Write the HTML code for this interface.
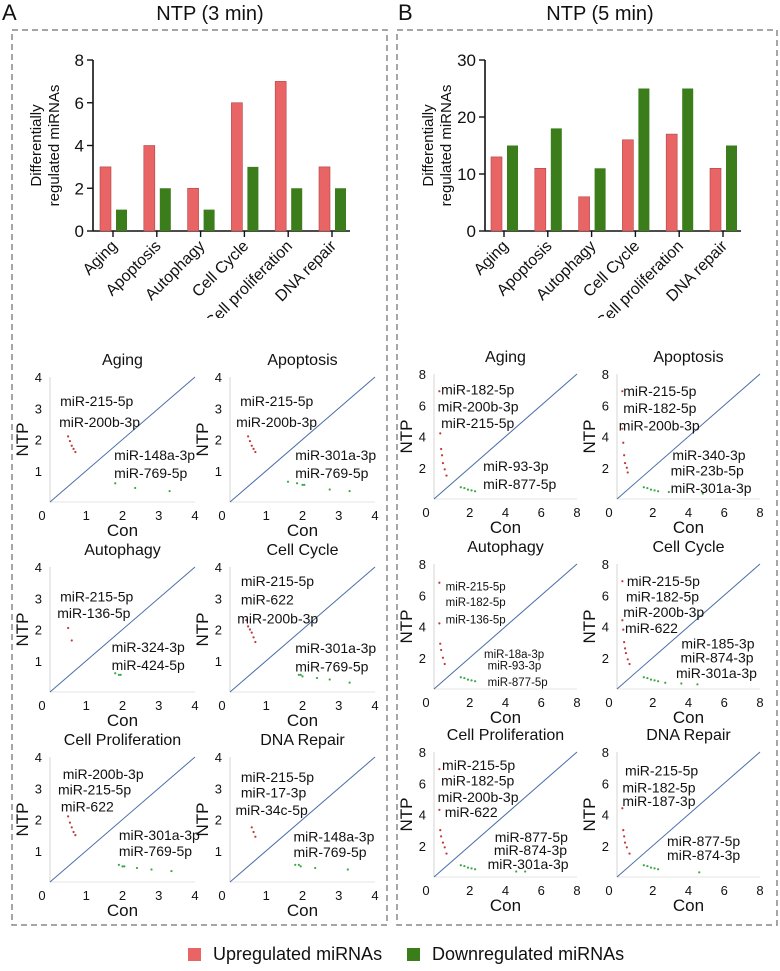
<!DOCTYPE html>
<html><head><meta charset="utf-8"><style>
html,body{margin:0;padding:0;background:#fff}
svg text{font-family:"Liberation Sans",Arial,sans-serif;fill:#111}
</style></head><body>
<svg id="fig" width="780" height="966" viewBox="0 0 780 966" xmlns="http://www.w3.org/2000/svg">
<defs><clipPath id="topclip"><rect x="0" y="0" width="780" height="318"/></clipPath></defs>
<text x="2" y="20" font-size="22">A</text>
<text x="210" y="20" font-size="20" text-anchor="middle">NTP (3 min)</text>
<text x="398" y="20" font-size="22">B</text>
<text x="600" y="20" font-size="20" text-anchor="middle">NTP (5 min)</text>
<rect x="12" y="30" width="375" height="895" fill="none" stroke="#888" stroke-width="1.5" stroke-dasharray="6,4"/>
<rect x="397" y="30" width="380" height="895" fill="none" stroke="#888" stroke-width="1.5" stroke-dasharray="6,4"/>
<g clip-path="url(#topclip)" id="bars"></g>
<g id="scat"></g>
<rect x="188" y="948" width="13" height="13" fill="#e96464"/>
<text x="213" y="960" font-size="18">Upregulated miRNAs</text>
<rect x="407" y="948" width="13" height="13" fill="#3a7d1a"/>
<text x="432" y="960" font-size="18">Downregulated miRNAs</text>
</svg>
<script>
const NS="http://www.w3.org/2000/svg";
const categories=["Aging","Apoptosis","Autophagy","Cell Cycle","Cell proliferation","DNA repair"];
const upA=[3,4,2,6,7,3];
const downA=[1,2,1,3,2,2];
const ticksA=[0,2,4,6,8];
const upB=[13,11,6,16,17,11];
const downB=[15,18,11,25,25,15];
const ticksB=[0,10,20,30];

// scatter data: [panelKey] up/down x & y values
const titlesA=["Aging","Apoptosis","Autophagy","Cell Cycle","Cell Proliferation","DNA Repair"];
const upXA=[[0.5,0.55,0.6,0.65,0.7],[0.5,0.55,0.6,0.65,0.7],[0.5,0.6],[0.45,0.5,0.55,0.6,0.65,0.7],[0.5,0.55,0.6,0.65,0.7],[0.6,0.65,0.7]];
const upYA=[[2.1,1.95,1.8,1.7,1.6],[2.1,1.95,1.8,1.7,1.6],[2.05,1.65],[2.3,2.1,2.0,1.9,1.75,1.6],[2.1,1.9,1.75,1.6,1.5],[1.75,1.6,1.45]];
const downXA=[[1.8,2.35,3.3],[1.6,1.85,2.0,2.05,2.75,3.3],[1.8,1.9,1.95],[1.9,1.95,2.0,2.4,2.75,3.3],[1.9,2.0,2.05,2.4,2.8,3.35],[1.8,1.9,1.95,2.35,3.25]];
const downYA=[[0.6,0.45,0.35],[0.65,0.6,0.55,0.55,0.4,0.35],[0.6,0.55,0.55],[0.55,0.55,0.5,0.45,0.4,0.3],[0.55,0.5,0.5,0.45,0.4,0.35],[0.55,0.55,0.5,0.45,0.4]];
const upXB=[[0.3,0.35,0.4,0.45,0.5,0.6,0.7],[0.3,0.3,0.35,0.4,0.45,0.55,0.6],[0.3,0.3,0.35,0.4,0.5,0.6],[0.3,0.3,0.35,0.4,0.45,0.5,0.6,0.7],[0.3,0.3,0.35,0.4,0.5,0.6,0.7],[0.3,0.35,0.4,0.45,0.55,0.7]];
const upYB=[[6.9,4.2,3.2,2.8,2.3,1.9,1.5],[6.9,4.5,3.6,2.8,2.3,2.0,1.7],[6.8,4.2,2.9,2.5,2.0,1.6],[6.9,4.4,3.8,3.0,2.6,2.3,1.9,1.6],[6.9,4.3,3.0,2.6,2.2,1.9,1.5],[4.4,3.0,2.6,2.2,1.9,1.5]];
const downXB=[[1.5,1.7,1.9,2.1,2.3],[1.5,1.7,1.9,2.1,2.3,2.9,4.8],[1.5,1.7,1.9,2.1,2.3],[1.5,1.7,1.9,2.1,2.3,2.7,3.6,4.5],[1.5,1.7,1.9,2.1,2.3,4.6,5.1],[1.5,1.7,1.9,2.1,2.3,4.6]];
const downYB=[[0.75,0.7,0.6,0.55,0.5],[0.75,0.7,0.6,0.55,0.5,0.45,0.35],[0.75,0.7,0.6,0.55,0.5],[0.75,0.7,0.6,0.55,0.5,0.4,0.35,0.3],[0.75,0.7,0.6,0.55,0.5,0.35,0.35],[0.75,0.7,0.6,0.55,0.5,0.3]];
// annotation labels per panel: text, x, y (data coords)
const labelsA=[
 [["miR-215-5p",0.28,3.07],["miR-200b-3p",0.25,2.4],["miR-148a-3p",1.77,1.34],["miR-769-5p",1.77,0.77]],
 [["miR-215-5p",0.28,3.07],["miR-200b-3p",0.17,2.4],["miR-301a-3p",1.8,1.34],["miR-769-5p",1.8,0.77]],
 [["miR-215-5p",0.28,2.9],["miR-136-5p",0.2,2.37],["miR-324-3p",1.7,1.28],["miR-424-5p",1.7,0.7]],
 [["miR-215-5p",0.3,3.4],["miR-622",0.3,2.8],["miR-200b-3p",0.2,2.2],["miR-301a-3p",1.8,1.25],["miR-769-5p",1.8,0.65]],
 [["miR-200b-3p",0.35,3.3],["miR-215-5p",0.22,2.8],["miR-622",0.3,2.25],["miR-301a-3p",1.9,1.35],["miR-769-5p",1.9,0.83]],
 [["miR-215-5p",0.3,3.2],["miR-17-3p",0.3,2.7],["miR-34c-5p",0.15,2.15],["miR-148a-3p",1.75,1.3],["miR-769-5p",1.75,0.8]]];
const labelsB=[
 [["miR-182-5p",0.4,6.7],["miR-200b-3p",0.2,5.6],["miR-215-5p",0.4,4.55],["miR-93-3p",2.75,1.8],["miR-877-5p",2.75,0.65]],
 [["miR-215-5p",0.35,6.6],["miR-182-5p",0.35,5.5],["miR-200b-3p",0.1,4.4],["miR-340-3p",3.1,2.5],["miR-23b-5p",3.0,1.5],["miR-301a-3p",3.0,0.4]],
 [["miR-215-5p",0.65,6.3],["miR-182-5p",0.65,5.3],["miR-136-5p",0.65,4.2],["miR-18a-3p",2.8,2.0],["miR-93-3p",3.0,1.25],["miR-877-5p",3.0,0.2]],
 [["miR-215-5p",0.55,6.6],["miR-182-5p",0.5,5.6],["miR-200b-3p",0.35,4.6],["miR-622",0.45,3.6],["miR-185-3p",3.6,2.6],["miR-874-3p",3.55,1.7],["miR-301a-3p",3.3,0.7]],
 [["miR-215-5p",0.45,6.85],["miR-182-5p",0.4,5.85],["miR-200b-3p",0.2,4.8],["miR-622",0.6,3.85],["miR-877-5p",3.4,2.25],["miR-874-3p",3.35,1.4],["miR-301a-3p",3.0,0.5]],
 [["miR-215-5p",0.45,6.5],["miR-182-5p",0.3,5.4],["miR-187-3p",0.3,4.55],["miR-877-5p",2.8,2.0],["miR-874-3p",2.8,1.1]]];
const ticksSA=[0,1,2,3,4];
const ticksSB=[0,2,4,6,8];

function el(tag,attrs,parent,txt){const e=document.createElementNS(NS,tag);for(const k in attrs)e.setAttribute(k,attrs[k]);if(txt!==undefined)e.textContent=txt;parent.appendChild(e);return e;}

function barChart(ax,x0,x1,y0,y1,ymax,ticks,up,down,tickX0,pre){
  const g=document.getElementById('bars');
  const ys=v=>y0-(v/ymax)*(y0-y1);
  const step=43.8;
  const xs=i=>tickX0+i*step;
  let a=el('line',{x1:ax,y1:y1,x2:ax,y2:y0,stroke:'#111','stroke-width':1.6},g);
  
  a=el('line',{x1:ax,y1:y0,x2:x1,y2:y0,stroke:'#111','stroke-width':1.6},g);
  
  ticks.forEach(t=>{
    el('line',{x1:ax-6,y1:ys(t),x2:ax,y2:ys(t),stroke:'#111','stroke-width':1.4},g);
    const tl=el('text',{x:ax-9,y:ys(t)+6,'font-size':17,'text-anchor':'end'},g,String(t));
    
    
  });
  const yt=el('text',{transform:`translate(${ax-50},${(y0+y1)/2}) rotate(-90)`,'font-size':15,'text-anchor':'middle'},g);
  
  
  el('tspan',{x:0,dy:-2},yt,'Differentially');el('tspan',{x:0,dy:18},yt,'regulated miRNAs');
  categories.forEach((c,i)=>{
    const cx=xs(i);
    el('line',{x1:cx,y1:y0,x2:cx,y2:y0+6,stroke:'#111','stroke-width':1.4},g);
    const r=el('rect',{x:cx-13,y:ys(up[i]),width:11,height:y0-ys(up[i]),fill:'#e96464',stroke:'#b04545','stroke-width':0.6},g);
    
    
    const d=el('rect',{x:cx+3,y:ys(down[i]),width:11,height:y0-ys(down[i]),fill:'#3a7d1a'},g);
    
    
    const t=el('text',{transform:`translate(${cx+5},${y0+16}) rotate(-45)`,'font-size':16,'text-anchor':'end'},g,c);
    
    
  });
}
barChart(93,93,350,231,60,8,ticksA,upA,downA,113,'chart-a');
barChart(485,485,741,231,60,30,ticksB,upB,downB,504,'chart-b');

function scatter(ox,oy,w,h,max,ticks,title,ux,uy,dx,dy,labels,lfs,pre){
  const g=document.getElementById('scat');
  const sx=v=>ox+v/max*w, sy=v=>oy-v/max*h;
  const tt=el('text',{x:ox+w/2,y:oy-h-12,'font-size':16,'text-anchor':'middle'},g,title);
  
  
  el('line',{x1:ox,y1:oy,x2:ox,y2:oy-h,stroke:'#d4d4d4','stroke-width':1},g);
  el('line',{x1:ox,y1:oy,x2:ox+w,y2:oy,stroke:'#e4e4e4','stroke-width':1},g);
  const dl=el('line',{x1:sx(0),y1:sy(0),x2:sx(max),y2:sy(max),stroke:'#4a6ea8','stroke-width':1},g);
  
  
  ticks.forEach(t=>{
    el('text',{x:ox-8,y:sy(t)+5,'font-size':13,'text-anchor':'end'},g,t===0?'':String(t));
    el('text',{x:sx(t)+(t===0?-8:0),y:oy+18,'font-size':13,'text-anchor':'middle'},g,String(t));
  });
  const yl=el('text',{transform:`translate(${ox-22},${oy-h/2}) rotate(-90)`,'font-size':17,'text-anchor':'middle'},g,'NTP');
  
  
  const xl=el('text',{x:ox+w/2,y:oy+34,'font-size':17,'text-anchor':'middle'},g,'Con');
  
  
  ux.forEach((v,i)=>{const c=el('circle',{cx:sx(v),cy:sy(uy[i]),r:1.1,fill:'#c0393b'},g);
    
    });
  dx.forEach((v,i)=>{const c=el('circle',{cx:sx(v),cy:sy(dy[i]),r:1.1,fill:'#3aa84a'},g);
    
    });
  labels.forEach(l=>{const t=el('text',{x:sx(l[1]),y:sy(l[2]),'font-size':lfs},g,l[0]);
    
    });
}
const rowsA=[502,692,882], colsA=[50,230];
const rowsB=[499,689,877], colsB=[434,617];
for(let i=0;i<6;i++){
  const r=Math.floor(i/2),c=i%2;
  scatter(colsA[c],rowsA[r],145,125,4,ticksSA,titlesA[i],upXA[i],upYA[i],downXA[i],downYA[i],labelsA[i],14,'a-'+titlesA[i].toLowerCase().replace(/ /g,'-'));
  scatter(colsB[c],rowsB[r],143,125,8,ticksSB,titlesA[i],upXB[i],upYB[i],downXB[i],downYB[i],labelsB[i],i===2?11.5:14,'b-'+titlesA[i].toLowerCase().replace(/ /g,'-'));
}
</script>
</body></html>
